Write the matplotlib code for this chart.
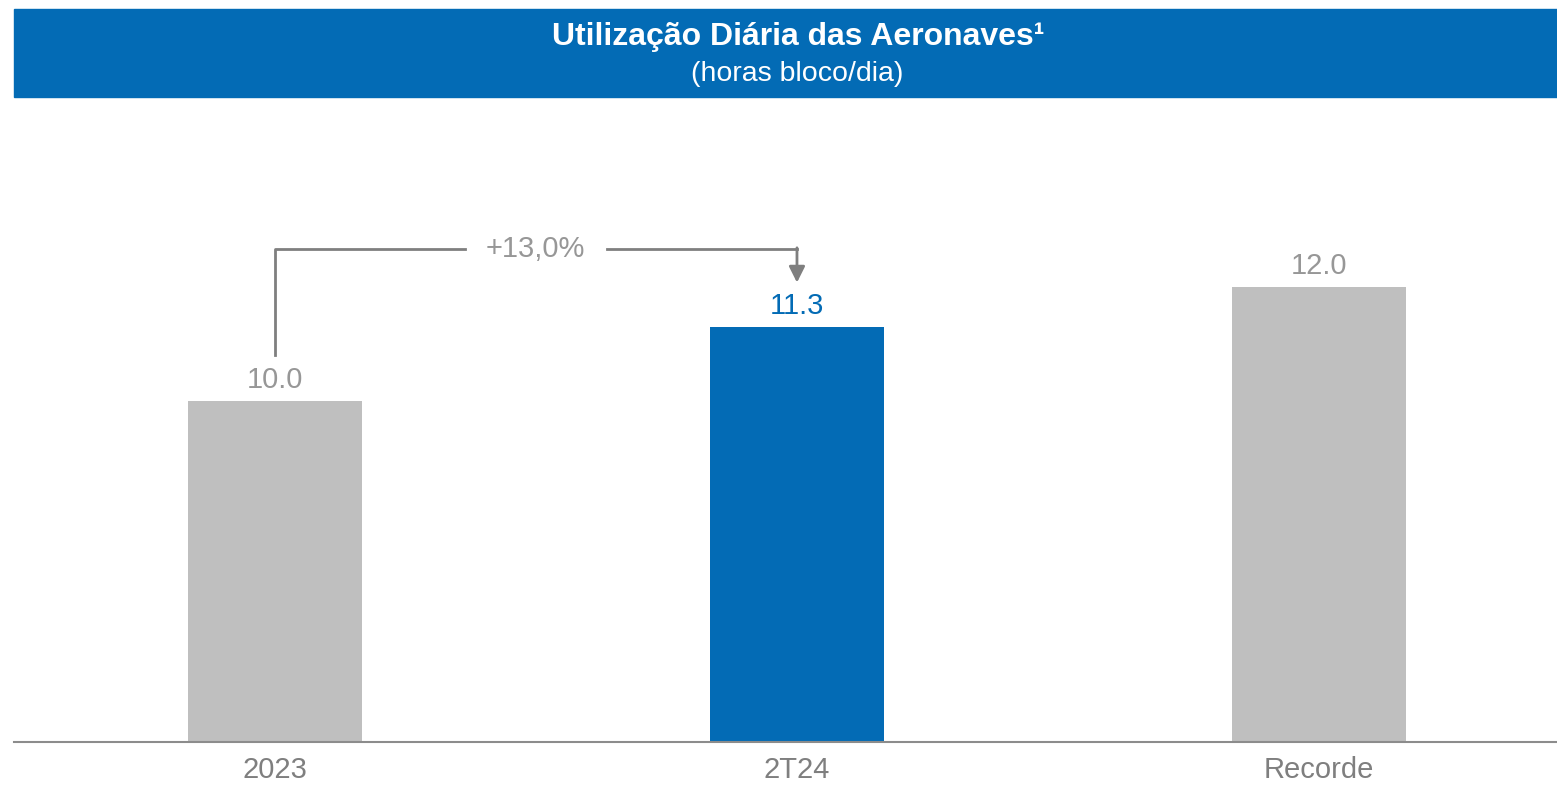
import matplotlib.pyplot as plt
from matplotlib.patches import Rectangle

plt.rcParams['font.family'] = ['Liberation Sans', 'DejaVu Sans']

categories = ['2023', '2T24', 'Recorde']
values = [10.0, 11.3, 12.0]
labels = ['10.0', '11.3', '12.0']
bar_colors = ['#BFBFBF', '#036BB5', '#BFBFBF']
label_colors = ['#979797', '#036BB5', '#979797']
growth = '+13,0%'

W, H = 1557, 785
fig = plt.figure(figsize=(W / 100, H / 100), dpi=100)

# header band
fig.patches.append(Rectangle((14 / W, 1 - 97 / H), (1557 - 14) / W, 88 / H,
                             transform=fig.transFigure, color='#036BB5', zorder=0))
fig.text(798 / W, 1 - 37 / H, 'Utilização Diária das Aeronaves¹', ha='center', va='center',
         color='white', fontsize=23, fontweight='bold')
fig.text(797 / W, 1 - 74 / H, '(horas bloco/dia)', ha='center', va='center',
         color='white', fontsize=20.5)

ax = fig.add_axes([14 / W, 1 - 742 / H, (1557 - 14) / W, (742 - 97) / H])
x = [0, 1, 2]
ax.bar(x, values, width=0.333, color=bar_colors, bottom=0, zorder=2)
ax.set_xlim(-0.5, 2.456)
ax.set_ylim(4.02, 4.02 + 645 / 57)

for xi, v, lab, c in zip(x, values, labels, label_colors):
    ax.annotate(lab, (xi, v), xytext=(0, 5), textcoords='offset points',
                ha='center', va='bottom', fontsize=21, color=c)

for s in ['top', 'right', 'left']:
    ax.spines[s].set_visible(False)
ax.spines['bottom'].set_color('#8C8C8C')
ax.spines['bottom'].set_linewidth(1.5)
ax.set_yticks([])
ax.set_xticks(x)
ax.set_xticklabels(categories, fontsize=21, color='#7F7F7F')
ax.tick_params(axis='x', length=0, pad=10)

# growth bracket
gray = '#7F7F7F'
yb = 12.67
ax.plot([0, 0, 0.364], [values[0] + 0.81, yb, yb], color=gray, lw=2, clip_on=False)
ax.plot([0.636, 1], [yb, yb], color=gray, lw=2, clip_on=False)
ax.annotate('', xy=(1, values[1] + 0.78), xytext=(1, yb + 0.02),
            arrowprops=dict(arrowstyle='-|>', color=gray, lw=2, mutation_scale=24,
                            shrinkA=0, shrinkB=0))
ax.text(0.498, yb, growth, ha='center', va='center', fontsize=21, color='#979797')

fig.savefig('out.png', dpi=100)
